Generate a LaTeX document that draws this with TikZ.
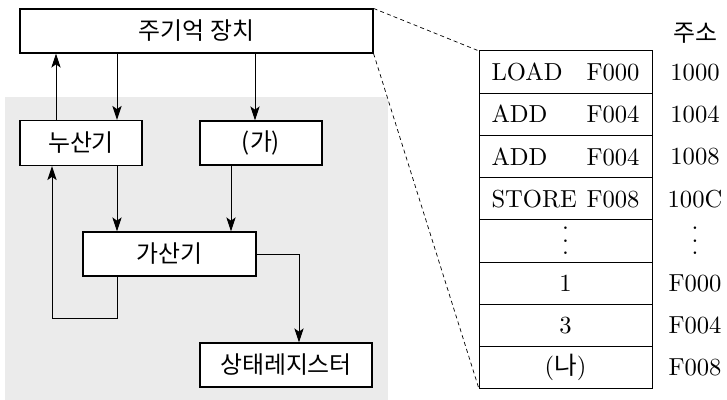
\documentclass[tikz,border=0pt]{standalone}
\usepackage{fontspec}
\newfontfamily\krfont{Noto Sans CJK KR}
\newfontfamily\tabfont{lmroman10-regular}[Extension=.otf]
\usetikzlibrary{arrows.meta,positioning}

\newcommand{\tabdots}{\vbox{\baselineskip=3.1mm \lineskiplimit=0pt \hbox{.}\hbox{.}\hbox{.}}}

\tikzset{
  unit/.style={draw, line width=0.8pt, fill=white, inner sep=0pt, font=\krfont\fontsize{17}{20}\selectfont},
  link/.style={line width=0.7pt, -{Stealth[length=3.5mm, width=2.3mm, inset=0.8mm]}},
  cell/.style={draw, line width=0.7pt, outer sep=0pt, minimum width=43.25mm, minimum height=10.56mm,
    inner xsep=3.125mm, inner ysep=0pt, text width=37mm, align=center, font=\tabfont\fontsize{17.5}{20}\selectfont},
  addr/.style={inner sep=0pt, font=\tabfont\fontsize{17.5}{20}\selectfont},
  zoomline/.style={line width=0.5pt, dash pattern=on 1mm off 0.8mm},
}

\begin{document}
\begin{tikzpicture}[x=0.25mm, y=-0.25mm]
    \useasboundingbox (0,0) rectangle (727,400);

    % processor area
    \fill[black!8] (5,97) rectangle (388,400);

    \node[unit, minimum width=88.25mm, minimum height=11mm] (mem) at (196.5,31) {주기억 장치};
    \node[unit, minimum width=30.5mm, minimum height=11.25mm] (acc) at (81,143) {누산기};
    \node[unit, minimum width=30.5mm, minimum height=11mm] (ga) at (261,143) {(가)};
    \node[unit, minimum width=43.25mm, minimum height=11mm] (alu) at (169.5,254) {가산기};
    \node[unit, minimum width=43mm, minimum height=11mm] (sr) at (286,365) {상태레지스터};

    \coordinate (up) at (56,0);
    \coordinate (down) at (117,0);
    \coordinate (gin) at (255,0);
    \coordinate (gout) at (231,0);
    \coordinate (back) at (52,318);
    \coordinate (flag) at (299,0);

    \draw[link] (acc.north -| up) -- (mem.south -| up);
    \draw[link] (mem.south -| down) -- (acc.north -| down);
    \draw[link] (mem.south -| gin) -- (ga.north -| gin);
    \draw[link] (acc.south -| down) -- (alu.north -| down);
    \draw[link] (ga.south -| gout) -- (alu.north -| gout);
    \draw[link] (alu.south -| down) |- (back) -- (acc.south -| back);
    \draw[link] (alu.east) -| (sr.north -| flag);

    % memory contents
    \node[cell] (r1) at (565.5,72.1) {LOAD\hfill F000};
    \node[cell, below=0pt of r1] (r2) {ADD\hfill F004};
    \node[cell, below=0pt of r2] (r3) {ADD\hfill F004};
    \node[cell, below=0pt of r3] (r4) {STORE\hfill F008};
    \node[cell, below=0pt of r4] (r5) {\tabdots};
    \node[cell, below=0pt of r5] (r6) {1};
    \node[cell, below=0pt of r6] (r7) {3};
    \node[cell, below=0pt of r7] (r8) {({\krfont 나})};

    \coordinate (acol) at (695,0);
    \node[addr, font=\krfont\fontsize{17}{20}\selectfont] (hd) at (695,33) {주소};
    \node[addr] (a1) at (r1 -| acol) {1000};
    \node[addr] (a2) at (r2 -| acol) {1004};
    \node[addr] (a3) at (r3 -| acol) {1008};
    \node[addr] (a4) at (r4 -| acol) {100C};
    \node[addr] (a5) at (r5 -| acol) {\tabdots};
    \node[addr] (a6) at (r6 -| acol) {F000};
    \node[addr] (a7) at (r7 -| acol) {F004};
    \node[addr] (a8) at (r8 -| acol) {F008};

    \draw[zoomline] (mem.north east) -- (r1.north west);
    \draw[zoomline] (mem.south east) -- (r8.south west);
\end{tikzpicture}
\end{document}
